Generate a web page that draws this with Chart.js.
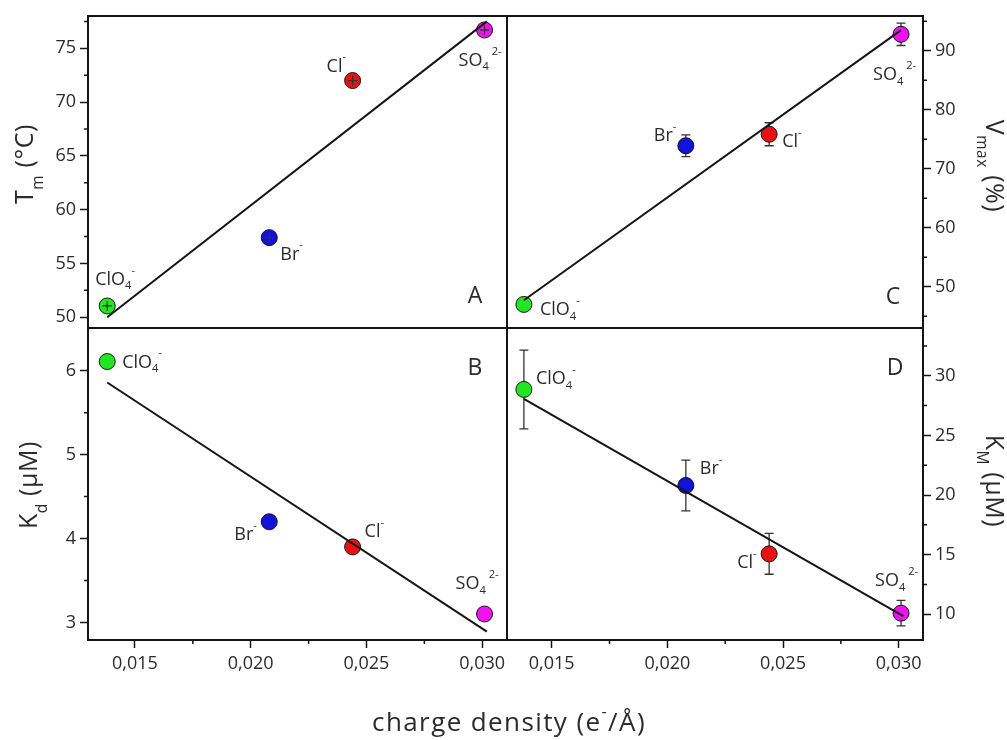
<!DOCTYPE html>
<html>
<head>
<meta charset="utf-8">
<script src="https://cdn.jsdelivr.net/npm/chart.js@4.4.1/dist/chart.umd.min.js"></script>
<style>
  html, body { margin: 0; padding: 0; background: #fff; }
  #wrap { position: relative; width: 1007px; height: 740px; }
  #wrap canvas { position: absolute; left: 0; top: 0; }
</style>
</head>
<body>
<div id="wrap">
  <canvas id="panelA" width="1007" height="740"></canvas>
  <canvas id="panelB" width="1007" height="740"></canvas>
  <canvas id="panelC" width="1007" height="740"></canvas>
  <canvas id="panelD" width="1007" height="740"></canvas>
</div>
<script>
// anions and their charge density (e-/Å)
const ions = ["ClO4-", "Br-", "Cl-", "SO42-"]
const chargeDensity = [0.0138, 0.0208, 0.0244, 0.0301]
const ionColors = ["#22e622", "#1212d8", "#e81212", "#f012f0"]

// measured values and error bars
const tmValues = [51.05, 57.4, 72.0, 76.7]
const tmErrors = [0.45, 0.45, 0.45, 0.45]
const tmXErrors = [0.0002, 0.0002, 0.0002, 0.0002]
const kdValues = [6.11, 4.2, 3.9, 3.1]
const kdErrors = [0, 0, 0, 0]
const vmaxValues = [47.0, 73.9, 75.85, 92.8]
const vmaxErrors = [0.5, 1.85, 1.95, 1.9]
const kmValues = [28.85, 20.8, 15.07, 10.1]
const kmErrors = [3.3, 2.13, 1.71, 1.07]

// linear fits (both ends of each line)
const tmFitX = [0.0138, 0.0302]
const tmFitY = [50.0, 77.5]
const kdFitX = [0.0138, 0.0302]
const kdFitY = [5.86, 2.89]
const vmaxFitX = [0.0138, 0.0301]
const vmaxFitY = [47.7, 93.5]
const kmFitX = [0.0138, 0.0302]
const kmFitY = [28.05, 9.86]

// axes
const xRangeLeft = [0.01297, 0.03107]
const xRangeRight = [0.01307, 0.03105]
const xTicks = [0.015, 0.020, 0.025, 0.030]
const xMinorTicks = [0.0175, 0.0225, 0.0275]
const tmRange = [49, 78]
const tmTicks = [50, 55, 60, 65, 70, 75]
const tmMinorTicks = [52.5, 57.5, 62.5, 67.5, 72.5, 77.5]
const kdRange = [2.79, 6.51]
const kdTicks = [3, 4, 5, 6]
const kdMinorTicks = [3.5, 4.5, 5.5]
const vmaxRange = [43, 95.9]
const vmaxTicks = [50, 60, 70, 80, 90]
const vmaxMinorTicks = [45, 55, 65, 75, 85, 95]
const kmRange = [7.85, 34]
const kmTicks = [10, 15, 20, 25, 30]
const kmMinorTicks = [12.5, 17.5, 22.5, 27.5, 32.5]

const FONT = "'Open Sans', 'DejaVu Sans', sans-serif"
const TEXT = "#2b2b2b"
const INK = "#151515"
const W = 1007, H = 740

const ionParts = {
  "ClO4-": [["ClO", ""], ["4", "sub"], ["-", "sup"]],
  "Br-": [["Br", ""], ["-", "sup"]],
  "Cl-": [["Cl", ""], ["-", "sup"]],
  "SO42-": [["SO", ""], ["4", "sub"], [" 2-", "sup"]],
}

// panel layout: plot box [left, top, right, bottom] and label offsets (left, baseline) from each point
const panels = {
  panelA: {
    box: [88, 16, 507, 328], xRange: xRangeLeft, showX: false,
    yPos: "left", yRange: tmRange, yTicks: tmTicks, yMinor: tmMinorTicks,
    values: tmValues, errors: tmErrors, xErrors: tmXErrors, cap: 0,
    fitX: tmFitX, fitY: tmFitY, errOnTop: true,
    title: [["T", ""], ["m", "sub"], [" (°C)", ""]], titleAt: [33, 164], titleRot: -Math.PI / 2,
    letter: "A", letterAt: [475, 303],
    labelOffsets: [[-12, -21], [11, 22], [-26, -9], [-26, 36]],
  },
  panelB: {
    box: [88, 328, 507, 640], xRange: xRangeLeft, showX: true,
    yPos: "left", yRange: kdRange, yTicks: kdTicks, yMinor: kdMinorTicks,
    values: kdValues, errors: kdErrors, cap: 4.5,
    fitX: kdFitX, fitY: kdFitY, errOnTop: false,
    title: [["K", ""], ["d", "sub"], [" (μM)", ""]], titleAt: [37, 485], titleRot: -Math.PI / 2,
    letter: "B", letterAt: [475, 375],
    labelOffsets: [[15, 6], [-35, 18], [12, -10], [-29, -25]],
  },
  panelC: {
    box: [507, 16, 923, 328], xRange: xRangeRight, showX: false,
    yPos: "right", yRange: vmaxRange, yTicks: vmaxTicks, yMinor: vmaxMinorTicks,
    values: vmaxValues, errors: vmaxErrors, cap: 4.5,
    fitX: vmaxFitX, fitY: vmaxFitY, errOnTop: false,
    title: [["V", ""], ["max", "sub"], [" (%)", ""]], titleAt: [986, 166], titleRot: Math.PI / 2,
    letter: "C", letterAt: [893, 304],
    labelOffsets: [[16, 11], [-32, -5], [13, 13], [-28, 46]],
  },
  panelD: {
    box: [507, 328, 923, 640], xRange: xRangeRight, showX: true,
    yPos: "right", yRange: kmRange, yTicks: kmTicks, yMinor: kmMinorTicks,
    values: kmValues, errors: kmErrors, cap: 4.5,
    fitX: kmFitX, fitY: kmFitY, errOnTop: false,
    title: [["K", ""], ["M", "sub"], [" (μM)", ""]], titleAt: [986, 481], titleRot: Math.PI / 2,
    letter: "D", letterAt: [895, 375],
    labelOffsets: [[12, -5], [14, -11], [-32, 14], [-26, -27]],
  },
}

function setFont(ctx, size, spacing) {
  ctx.font = size + "px " + FONT
  ctx.letterSpacing = (spacing || 0) + "px"
}

function richWidth(ctx, parts, size, style) {
  let w = 0
  parts.forEach(([t, m]) => {
    setFont(ctx, m ? size * 0.62 : size, style.spacing)
    w += ctx.measureText(t).width
  })
  return w
}

// text with sub- and superscript pieces, x is the left end (or the centre)
function drawRich(ctx, parts, x, y, size, center, style) {
  let cx = center ? x - richWidth(ctx, parts, size, style) / 2 : x
  ctx.textAlign = "left"
  ctx.textBaseline = "alphabetic"
  parts.forEach(([t, m]) => {
    setFont(ctx, m ? size * 0.62 : size, style.spacing)
    const dy = m === "sub" ? size * style.sub : m === "sup" ? -size * style.sup : 0
    ctx.fillText(t, cx, y + dy)
    cx += ctx.measureText(t).width
  })
  ctx.letterSpacing = "0px"
}

const labelStyle = { sub: 0.25, sup: 0.62, spacing: 0 }
const titleStyle = { sub: 0.38, sup: 0.5, spacing: 0.6 }

function drawErrors(chart, p) {
  const ctx = chart.ctx
  const xs = chart.scales.x, ys = chart.scales.y
  ctx.save()
  ctx.strokeStyle = "#333"
  ctx.lineWidth = 1.3
  ctx.beginPath()
  p.errors.forEach((e, i) => {
    if (!e) return
    const x = xs.getPixelForValue(chargeDensity[i])
    const y1 = ys.getPixelForValue(p.values[i] + e)
    const y2 = ys.getPixelForValue(p.values[i] - e)
    ctx.moveTo(x, y1); ctx.lineTo(x, y2)
    if (p.cap) {
      ctx.moveTo(x - p.cap, y1); ctx.lineTo(x + p.cap, y1)
      ctx.moveTo(x - p.cap, y2); ctx.lineTo(x + p.cap, y2)
    }
  })
  if (p.xErrors) {
    p.xErrors.forEach((e, i) => {
      const y = ys.getPixelForValue(p.values[i])
      ctx.moveTo(xs.getPixelForValue(chargeDensity[i] - e), y)
      ctx.lineTo(xs.getPixelForValue(chargeDensity[i] + e), y)
    })
  }
  ctx.stroke()
  ctx.restore()
}

const panelDecor = {
  id: "panelDecor",
  beforeDatasetsDraw(chart) {
    const p = panels[chart.canvas.id]
    if (!p.errOnTop) drawErrors(chart, p)
  },
  afterDatasetsDraw(chart) {
    const p = panels[chart.canvas.id]
    if (p.errOnTop) drawErrors(chart, p)
    const ctx = chart.ctx
    const a = chart.chartArea
    const xs = chart.scales.x, ys = chart.scales.y
    ctx.save()
    // frame
    ctx.strokeStyle = INK
    ctx.lineWidth = 2
    ctx.strokeRect(a.left, a.top, a.right - a.left, a.bottom - a.top)
    // minor ticks
    ctx.lineWidth = 1.5
    ctx.beginPath()
    p.yMinor.forEach(v => {
      const y = ys.getPixelForValue(v)
      if (p.yPos === "left") { ctx.moveTo(a.left, y); ctx.lineTo(a.left - 4, y) }
      else { ctx.moveTo(a.right, y); ctx.lineTo(a.right + 4, y) }
    })
    if (p.showX) {
      xMinorTicks.forEach(v => {
        const x = xs.getPixelForValue(v)
        ctx.moveTo(x, a.bottom); ctx.lineTo(x, a.bottom + 4)
      })
    }
    ctx.stroke()
    // ion labels
    ctx.fillStyle = TEXT
    ions.forEach((ion, i) => {
      const x = xs.getPixelForValue(chargeDensity[i]) + p.labelOffsets[i][0]
      const y = ys.getPixelForValue(p.values[i]) + p.labelOffsets[i][1]
      drawRich(ctx, ionParts[ion], x, y, 18, false, labelStyle)
    })
    // panel letter
    setFont(ctx, 23, 0)
    ctx.textAlign = "center"
    ctx.textBaseline = "alphabetic"
    ctx.fillText(p.letter, p.letterAt[0], p.letterAt[1])
    // axis title
    ctx.save()
    ctx.translate(p.titleAt[0], p.titleAt[1])
    ctx.rotate(p.titleRot)
    drawRich(ctx, p.title, 0, 0, 25, true, titleStyle)
    ctx.restore()
    // shared x title
    if (chart.canvas.id === "panelB") {
      drawRich(ctx, [["charge density (e", ""], ["-", "sup"], ["/Å)", ""]], 509, 731, 26, true,
        { sub: 0.3, sup: 0.55, spacing: 1.4 })
    }
    ctx.restore()
  },
}

function makePanel(id) {
  const p = panels[id]
  const tickFont = { family: FONT, size: 18 }
  const leftAxis = p.yPos === "left"
  return new Chart(document.getElementById(id), {
    type: "scatter",
    data: {
      datasets: [
        {
          type: "line",
          data: p.fitX.map((x, i) => ({ x, y: p.fitY[i] })),
          borderColor: INK, borderWidth: 2, pointRadius: 0, fill: false, clip: false,
        },
        {
          data: chargeDensity.map((x, i) => ({ x, y: p.values[i] })),
          pointRadius: 8, pointHoverRadius: 8,
          pointBackgroundColor: ionColors, pointBorderColor: INK, pointBorderWidth: 1, clip: false,
        },
      ],
    },
    options: {
      responsive: false,
      animation: false,
      events: [],
      layout: {
        padding: {
          left: leftAxis ? 0 : p.box[0],
          right: leftAxis ? W - p.box[2] : 0,
          top: p.box[1],
          bottom: p.showX ? 0 : H - p.box[3],
        },
      },
      plugins: { legend: { display: false }, tooltip: { enabled: false } },
      scales: {
        x: {
          type: "linear", min: p.xRange[0], max: p.xRange[1], display: p.showX,
          afterFit: s => { s.height = p.showX ? H - p.box[3] : 0 },
          afterBuildTicks: s => { s.ticks = xTicks.map(v => ({ value: v })) },
          ticks: { font: tickFont, color: TEXT, padding: 5, autoSkip: false, maxRotation: 0,
            callback: v => v.toFixed(3).replace(".", ",") },
          grid: { drawOnChartArea: false, drawTicks: true, tickLength: 8, tickColor: INK, tickWidth: 1.5 },
          border: { display: false },
        },
        y: {
          type: "linear", position: p.yPos, min: p.yRange[0], max: p.yRange[1],
          afterFit: s => { s.width = leftAxis ? p.box[0] : W - p.box[2] },
          afterBuildTicks: s => { s.ticks = p.yTicks.map(v => ({ value: v })) },
          ticks: { font: tickFont, color: TEXT, padding: 4, autoSkip: false, callback: v => String(v) },
          grid: { drawOnChartArea: false, drawTicks: true, tickLength: 8, tickColor: INK, tickWidth: 1.5 },
          border: { display: false },
        },
      },
    },
    plugins: [panelDecor],
  })
}

Object.keys(panels).forEach(makePanel)
</script>
</body>
</html>
